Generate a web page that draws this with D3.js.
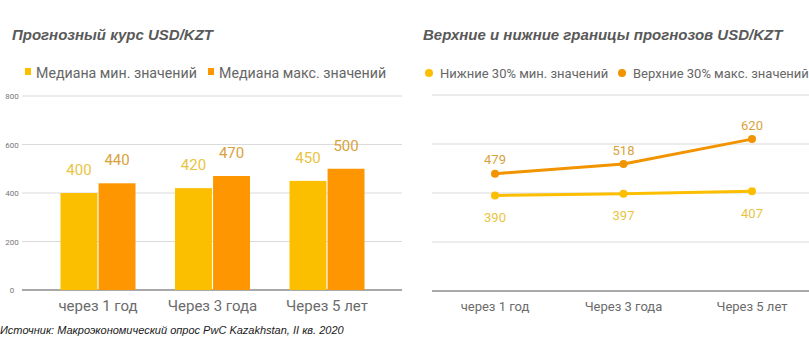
<!DOCTYPE html>
<html><head><meta charset="utf-8">
<script src="https://cdn.jsdelivr.net/npm/d3@7"></script>
<style>
html,body{margin:0;padding:0;background:#fff;}
svg{display:block;}
</style></head>
<body>
<svg id="c" width="809" height="341"></svg>
<script>
const categories = ["через 1 год", "Через 3 года", "Через 5 лет"];
const barSeriesNames = ["Медиана мин. значений", "Медиана макс. значений"];
const barMin = [400, 420, 450];
const barMax = [440, 470, 500];
const lineSeriesNames = ["Нижние 30% мин. значений", "Верхние 30% макс. значений"];
const lineMin = [390, 397, 407];
const lineMax = [479, 518, 620];
const yTicks = [0, 200, 400, 600, 800];
const leftTitle = "Прогнозный курс USD/KZT";
const rightTitle = "Верхние и нижние границы прогнозов USD/KZT";
const sourceText = "Источник: Макроэкономический опрос PwC Kazakhstan, II кв. 2020";

const YEL = "#fcbf00", ORA = "#fd9600";
const YEL_T = "#e9c443", ORA_T = "#d9a23c";
const svg = d3.select("#c");
const sans = "Roboto, 'Liberation Sans', Arial, sans-serif";
const arial = "'Liberation Sans', Arial, sans-serif";

// ---------- Left: bar chart ----------
const yL = d3.scaleLinear().domain([0, 800]).range([290, 96]);
const xL = d3.scaleBand().domain(categories).range([40.75, 384.25]).padding(0);
const x1 = d3.scaleBand().domain([0, 1]).range([-37.5, 37.5]).paddingInner(0.03);

const gL = svg.append("g");
gL.append("g").selectAll("line").data(yTicks.filter(d => d > 0)).join("line")
  .attr("x1", 22).attr("x2", 402)
  .attr("y1", d => yL(d)).attr("y2", d => yL(d))
  .attr("stroke", "#dadada").attr("stroke-width", 1);
gL.append("line").attr("x1", 22).attr("x2", 402).attr("y1", yL(0)).attr("y2", yL(0))
  .attr("stroke", "#8c8c8c").attr("stroke-width", 1.3);
gL.append("g").selectAll("text").data(yTicks).join("text")
  .attr("x", 12).attr("y", d => yL(d) + 3)
  .attr("text-anchor", "middle").attr("font-family", sans).attr("font-size", 8)
  .attr("fill", "#777").text(d => d);

const groups = categories.map((c, i) => ({c, vals: [barMin[i], barMax[i]]}));
const bg = gL.append("g").selectAll("g").data(groups).join("g")
  .attr("transform", d => `translate(${xL(d.c) + xL.bandwidth() / 2},0)`);
bg.selectAll("rect").data(d => d.vals.map((v, k) => ({v, k}))).join("rect")
  .attr("x", d => x1(d.k)).attr("width", x1.bandwidth())
  .attr("y", d => yL(d.v)).attr("height", d => yL(0) - yL(d.v))
  .attr("fill", d => d.k === 0 ? YEL : ORA);
bg.selectAll("text").data(d => d.vals.map((v, k) => ({v, k}))).join("text")
  .attr("x", d => x1(d.k) + x1.bandwidth() / 2)
  .attr("y", d => yL(d.v) - 18)
  .attr("text-anchor", "middle").attr("font-family", sans).attr("font-size", 15)
  .attr("fill", d => d.k === 0 ? YEL_T : ORA_T).text(d => d.v);

gL.append("g").selectAll("text").data(categories).join("text")
  .attr("x", d => xL(d) + xL.bandwidth() / 2).attr("y", 311)
  .attr("text-anchor", "middle").attr("font-family", sans).attr("font-size", 15)
  .attr("fill", "#6b6b6b").text(d => d);

gL.append("text").attr("x", 12).attr("y", 40)
  .attr("font-family", arial).attr("font-size", 15).attr("font-weight", "bold")
  .attr("font-style", "italic").attr("fill", "#595959").text(leftTitle);

const legL = [{x: 25, t: barSeriesNames[0], c: YEL}, {x: 208, t: barSeriesNames[1], c: ORA}];
legL.forEach(d => {
  gL.append("rect").attr("x", d.x).attr("y", 68).attr("width", 6).attr("height", 7).attr("fill", d.c);
  gL.append("text").attr("x", d.x + 11).attr("y", 77.5).attr("font-family", sans)
    .attr("font-size", 14.2).attr("fill", "#666").text(d.t);
});

svg.append("text").attr("x", 0).attr("y", 334).attr("font-family", arial)
  .attr("font-size", 11).attr("font-style", "italic").attr("fill", "#1a1a1a").text(sourceText);

// ---------- Right: line chart ----------
const yR = d3.scaleLinear().domain([0, 800]).range([291, 95]);
const xR = d3.scalePoint().domain(categories).range([495, 752]);
const gR = svg.append("g");
gR.append("g").selectAll("line").data(yTicks.filter(d => d > 0)).join("line")
  .attr("x1", 432).attr("x2", 809)
  .attr("y1", d => yR(d)).attr("y2", d => yR(d))
  .attr("stroke", "#dadada").attr("stroke-width", 1);
gR.append("line").attr("x1", 432).attr("x2", 809).attr("y1", yR(0)).attr("y2", yR(0))
  .attr("stroke", "#8c8c8c").attr("stroke-width", 1.3);

const line = d3.line().x((d, i) => xR(categories[i])).y(d => yR(d));
[[lineMin, YEL, YEL_T, 22], [lineMax, "#f29400", ORA_T, -14]].forEach(([vals, col, tcol, dy]) => {
  gR.append("path").datum(vals).attr("d", line).attr("fill", "none")
    .attr("stroke", col).attr("stroke-width", 3);
  gR.append("g").selectAll("circle").data(vals).join("circle")
    .attr("cx", (d, i) => xR(categories[i])).attr("cy", d => yR(d)).attr("r", 4)
    .attr("fill", col);
  gR.append("g").selectAll("text").data(vals).join("text")
    .attr("x", (d, i) => xR(categories[i])).attr("y", d => yR(d) + dy + 4.5)
    .attr("text-anchor", "middle").attr("font-family", sans).attr("font-size", 13)
    .attr("fill", tcol).text(d => d);
});

gR.append("g").selectAll("text").data(categories).join("text")
  .attr("x", d => xR(d)).attr("y", 310.5)
  .attr("text-anchor", "middle").attr("font-family", sans).attr("font-size", 13)
  .attr("fill", "#6b6b6b").text(d => d);

gR.append("text").attr("x", 423).attr("y", 40)
  .attr("font-family", arial).attr("font-size", 15).attr("font-weight", "bold")
  .attr("font-style", "italic").attr("fill", "#595959").text(rightTitle);

const legR = [{x: 429, t: lineSeriesNames[0], c: YEL}, {x: 622, t: lineSeriesNames[1], c: "#f29400"}];
legR.forEach(d => {
  gR.append("circle").attr("cx", d.x).attr("cy", 73).attr("r", 4).attr("fill", d.c);
  gR.append("text").attr("x", d.x + 11).attr("y", 77.5).attr("font-family", sans)
    .attr("font-size", 13).attr("fill", "#666").text(d.t);
});
</script>
</body></html>
